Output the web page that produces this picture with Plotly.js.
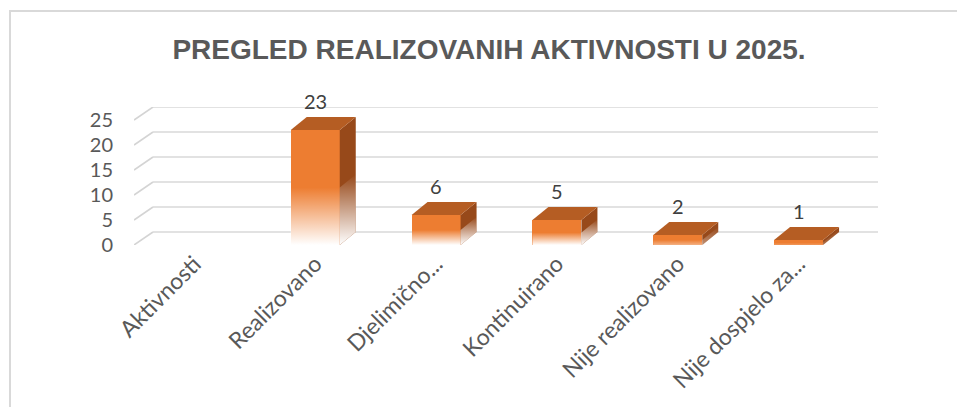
<!DOCTYPE html>
<html>
<head>
<meta charset="utf-8">
<script src="https://cdn.plot.ly/plotly-3.0.1.min.js"></script>
<style>
  html, body { margin: 0; padding: 0; background: #ffffff; }
  #frame { position: absolute; left: 9px; top: 10px; width: 1000px; height: 450px;
           border: 2px solid #d9d9d9; box-sizing: border-box; }
  #chart { position: absolute; left: 0; top: 0; width: 957px; height: 407px; }
</style>
</head>
<body>
<div id="frame"></div>
<div id="chart"></div>
<script>
// ---- data ----
const categories = ['Aktivnosti', 'Realizovano', 'Djelimično...', 'Kontinuirano', 'Nije realizovano', 'Nije dospjelo za...'];
const values = [null, 23, 6, 5, 2, 1];
const yTickValues = [0, 5, 10, 15, 20, 25];
const titleText = 'PREGLED REALIZOVANIH AKTIVNOSTI U 2025.';

// ---- geometry (pixels -> axis units) ----
const W = 957, H = 407;
const plotLeft = 134, plotRight = 878, plotTop = 107, plotBottom = 245;
const wallDepthPx = 19, barDepthPx = 16, depthRisePx = 13;
const pxPerX = ((plotRight - plotLeft) - wallDepthPx) / categories.length;
const pxPerY = 5;
const yMax = (plotBottom - plotTop) / pxPerY;
const wallDX = wallDepthPx / pxPerX;
const barDX = barDepthPx / pxPerX;
const DY = depthRisePx / pxPerY;
const barWidth = 49 / pxPerX;
const xIdx = categories.map((_, i) => i);

const orange = '#ED7D31', topColor = '#B55D23', sideColor = '#97491A';
const traces = [];

// front faces (real bar trace)
traces.push({
  type: 'bar', x: xIdx, y: values, width: barWidth,
  marker: { color: orange, line: { width: 0 } },
  hoverinfo: 'skip', showlegend: false
});

values.forEach((v, i) => {
  if (v == null) return;
  const xl = i - barWidth / 2, xr = i + barWidth / 2;
  // side face
  traces.push({
    type: 'scatter', mode: 'lines', x: [xr, xr, xr + barDX, xr + barDX, xr],
    y: [0, v, v + DY, DY, 0], fill: 'toself', fillcolor: sideColor,
    line: { width: 0 }, hoverinfo: 'skip', showlegend: false
  });
  // top face
  traces.push({
    type: 'scatter', mode: 'lines', x: [xl, xr, xr + barDX, xl + barDX, xl],
    y: [v, v, v + DY, v + DY, v], fill: 'toself', fillcolor: topColor,
    line: { width: 0 }, hoverinfo: 'skip', showlegend: false
  });
  // white fade towards the floor
  const a = Math.min(1, v / 5);
  const h = v * 0.5;
  const grad = { type: 'vertical', colorscale: [[0, 'rgba(255,255,255,' + a + ')'], [1, 'rgba(255,255,255,0)']] };
  traces.push({
    type: 'scatter', mode: 'lines', x: [xl, xr, xr, xl, xl], y: [0, 0, h, h, 0],
    fill: 'toself', fillgradient: grad, line: { width: 0 }, hoverinfo: 'skip', showlegend: false
  });
  traces.push({
    type: 'scatter', mode: 'lines', x: [xr, xr + barDX, xr + barDX, xr, xr], y: [0, DY, h + DY, h, 0],
    fill: 'toself', fillgradient: grad, line: { width: 0 }, hoverinfo: 'skip', showlegend: false
  });
});

// back-wall gridlines and side-wall diagonals
const shapes = [];
yTickValues.forEach(t => {
  shapes.push({ type: 'line', layer: 'below', xref: 'x', yref: 'y',
    x0: -0.5 + wallDX, x1: categories.length - 0.5 + wallDX, y0: t + DY, y1: t + DY,
    line: { color: '#d9d9d9', width: 1.6 } });
  shapes.push({ type: 'line', layer: 'below', xref: 'x', yref: 'y',
    x0: -0.5, x1: -0.5 + wallDX, y0: t, y1: t + DY,
    line: { color: '#d4d4d4', width: 1.6 } });
});

// data labels
const annotations = [];
values.forEach((v, i) => {
  if (v == null) return;
  annotations.push({ x: i, y: v + DY, xref: 'x', yref: 'y', text: String(v), showarrow: false,
    yanchor: 'bottom', yshift: 2, font: { family: 'Lato, Open Sans, sans-serif', size: 20, color: '#404040' } });
});

const layout = {
  width: W, height: H,
  margin: { l: plotLeft, r: W - plotRight, t: plotTop, b: H - plotBottom, pad: 0 },
  paper_bgcolor: 'rgba(0,0,0,0)', plot_bgcolor: 'rgba(0,0,0,0)',
  showlegend: false, bargap: 0,
  title: { text: titleText, x: 489 / W, xref: 'container', xanchor: 'center',
    y: 1 - 49 / H, yref: 'container', yanchor: 'middle',
    font: { family: 'Liberation Sans, Arial, sans-serif',
      size: 28, weight: 'bold', color: '#595959' } },
  xaxis: { range: [-0.5, categories.length - 0.5 + wallDX], tickvals: xIdx, ticktext: categories,
    tickangle: -45, showgrid: false, zeroline: false, showline: false, ticks: '',
    tickfont: { family: 'Lato, Open Sans, sans-serif', size: 23, color: '#595959' }, fixedrange: true },
  yaxis: { range: [0, yMax], tickvals: yTickValues, ticktext: yTickValues.map(String),
    showgrid: false, zeroline: false, showline: false, ticks: '', ticklabelstandoff: 20,
    tickfont: { family: 'Lato, Open Sans, sans-serif', size: 20, color: '#595959' }, fixedrange: true },
  shapes: shapes, annotations: annotations
};

Plotly.newPlot('chart', traces, layout, { staticPlot: true, displayModeBar: false });
</script>
</body>
</html>
